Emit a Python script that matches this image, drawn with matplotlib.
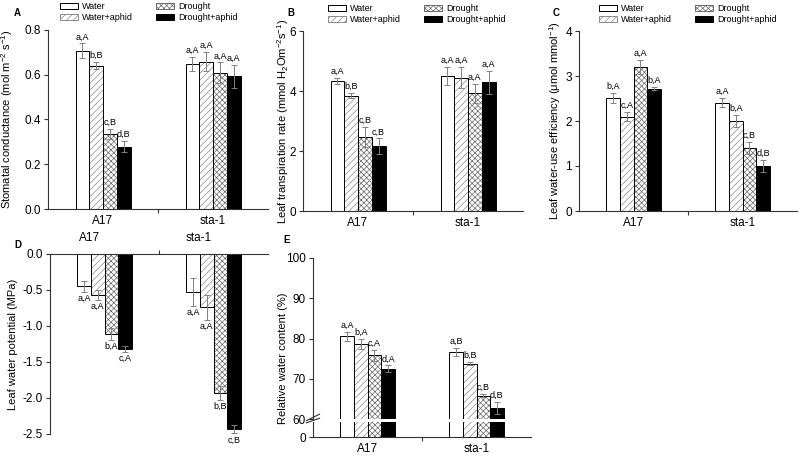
import matplotlib
matplotlib.use('Agg')
import matplotlib.pyplot as plt
from matplotlib.patches import Patch
from matplotlib.transforms import ScaledTranslation

plt.rcParams['font.family'] = ['Liberation Sans', 'DejaVu Sans']
plt.rcParams['mathtext.fontset'] = 'custom'
plt.rcParams['mathtext.rm'] = 'Liberation Sans'
plt.rcParams['mathtext.it'] = 'Liberation Sans:italic'
plt.rcParams['hatch.linewidth'] = 0.5

groups = ['A17', 'sta-1']
treatments = ['Water', 'Water+aphid', 'Drought', 'Drought+aphid']

# A  stomatal conductance
gs_mean = [[0.708, 0.641, 0.335, 0.278], [0.648, 0.659, 0.610, 0.593]]
gs_err = [[0.032, 0.016, 0.022, 0.025], [0.031, 0.043, 0.045, 0.050]]
gs_lab = [['a,A', 'b,B', 'c,B', 'd,B'], ['a,A', 'a,A', 'a,A', 'a,A']]

# B  transpiration
tr_mean = [[4.34, 3.85, 2.47, 2.16], [4.51, 4.45, 3.92, 4.29]]
tr_err = [[0.10, 0.08, 0.33, 0.26], [0.30, 0.36, 0.31, 0.38]]
tr_lab = [['a,A', 'b,B', 'c,B', 'c,B'], ['a,A', 'a,A', 'a,A', 'a,A']]

# C  water-use efficiency
wue_mean = [[2.51, 2.10, 3.20, 2.72], [2.41, 2.00, 1.40, 1.00]]
wue_err = [[0.12, 0.10, 0.15, 0.04], [0.10, 0.14, 0.14, 0.14]]
wue_lab = [['b,A', 'c,A', 'a,A', 'b,A'], ['a,A', 'b,A', 'c,B', 'd,B']]

# D  leaf water potential
lwp_mean = [[-0.45, -0.565, -1.11, -1.315], [-0.53, -0.74, -1.93, -2.43]]
lwp_err = [[0.08, 0.07, 0.08, 0.04], [0.19, 0.17, 0.10, 0.06]]
lwp_lab = [['a,A', 'a,A', 'b,A', 'c,A'], ['a,A', 'a,A', 'b,B', 'c,B']]

# E  relative water content
rwc_mean = [[80.6, 78.6, 75.8, 72.5], [76.7, 73.75, 65.8, 62.75]]
rwc_err = [[1.1, 1.2, 1.4, 0.8], [1.05, 0.4, 0.4, 1.4]]
rwc_lab = [['a,A', 'b,A', 'c,A', 'd,A'], ['a,B', 'b,B', 'c,B', 'd,B']]

W, H = 800, 457
fills = ['white', 'white', 'white', 'black']
hatches = [None, '/////', 'xxxxxx', None]
hcols = ['black', '#8a8a8a', '#6a6a6a', 'black']
ecol = '#808080'
bw = 0.125
centers = [0.5, 1.5]


def px(x0, y0, x1, y1):
    return [x0 / W, 1 - y1 / H, (x1 - x0) / W, (y1 - y0) / H]


def bars(ax, mean, err, labs, down=False, text=True):
    for g, c in enumerate(centers):
        for i in range(4):
            x = c + (i - 1.5) * bw
            m = mean[g][i]
            e = err[g][i]
            ax.bar(x, m, bw, color=fills[i], edgecolor=hcols[i], hatch=hatches[i], linewidth=0)
            ax.bar(x, m, bw, fill=False, edgecolor='black', linewidth=0.7)
            ax.errorbar(x, m, yerr=e, fmt='none', ecolor=ecol, elinewidth=0.7,
                        capsize=2, capthick=0.7)
            if text:
                if down:
                    ax.annotate(labs[g][i], (x, m - e), xytext=(0, -1.5), textcoords='offset points',
                                ha='center', va='top', fontsize=6.5, annotation_clip=False)
                else:
                    ax.annotate(labs[g][i], (x, m + e), xytext=(0, 1.5), textcoords='offset points',
                                ha='center', va='bottom', fontsize=6.5, annotation_clip=False)


def style(ax, top=False):
    ax.set_xlim(0, 2)
    ax.spines['right'].set_visible(False)
    if top:
        ax.spines['bottom'].set_visible(False)
        ax.xaxis.tick_top()
    else:
        ax.spines['top'].set_visible(False)
    for s in ax.spines.values():
        s.set_linewidth(0.8)
        s.set_color('#333333')
    ax.set_xticks(centers)
    ax.set_xticklabels(groups, fontsize=8.5)
    ax.tick_params(axis='x', which='major', length=0, pad=4)
    ax.set_xticks([1], minor=True)
    ax.tick_params(axis='x', which='minor', length=3, width=0.8, color='#333333')
    ax.tick_params(axis='y', labelsize=8.5, length=3, width=0.8, color='#333333', pad=2)


def legend(ax, x, y):
    hs = [Patch(facecolor=fills[i], edgecolor=hcols[i] if hatches[i] else 'black',
                hatch=hatches[i], linewidth=0.7) for i in range(4)]
    ax.legend(hs, treatments, ncol=2, loc='upper left', bbox_to_anchor=(x / W, 1 - y / H),
              bbox_transform=fig.transFigure, frameon=False, fontsize=6.5, handlelength=2.0,
              handleheight=0.75, handletextpad=0.4, columnspacing=2.6, labelspacing=0.25,
              borderpad=0, borderaxespad=0)


fig = plt.figure(figsize=(8, 4.57), dpi=100)

# A
ax = fig.add_axes(px(48, 30, 268, 209))
bars(ax, gs_mean, gs_err, gs_lab)
style(ax)
ax.set_ylim(0, 0.8)
ax.set_yticks([0.0, 0.2, 0.4, 0.6, 0.8])
ax.set_ylabel('Stomatal conductance (mol m$^{-2}$ s$^{-1}$)', fontsize=8)
ax.yaxis.set_label_coords(-0.15, 0.5)
legend(ax, 60, 2)
fig.text(14 / W, 1 - 13 / H, 'A', fontsize=7, fontweight='bold', va='center')

# B
ax = fig.add_axes(px(303, 31, 523, 211))
bars(ax, tr_mean, tr_err, tr_lab)
style(ax)
ax.set_ylim(0, 6)
ax.set_yticks([0, 2, 4, 6])
ax.set_ylabel('Leaf transpiration rate (mmol H$_2$Om$^{-2}$s$^{-1}$)', fontsize=8)
ax.yaxis.set_label_coords(-0.055, 0.5)
legend(ax, 328, 4)
fig.text(287 / W, 1 - 13 / H, 'B', fontsize=7, fontweight='bold', va='center')

# C
ax = fig.add_axes(px(579, 31, 797, 211))
bars(ax, wue_mean, wue_err, wue_lab)
style(ax)
ax.set_ylim(0, 4)
ax.set_yticks([0, 1, 2, 3, 4])
ax.set_ylabel('Leaf water-use efficiency (\u03bcmol mmol$^{-1}$)', fontsize=8)
ax.yaxis.set_label_coords(-0.075, 0.5)
legend(ax, 599, 4)
fig.text(553 / W, 1 - 13 / H, 'C', fontsize=7, fontweight='bold', va='center')

# D
ax = fig.add_axes(px(50, 254, 268, 434))
bars(ax, lwp_mean, lwp_err, lwp_lab, down=True)
style(ax, top=True)
ax.set_ylim(-2.5, 0)
ax.set_yticks([0.0, -0.5, -1.0, -1.5, -2.0, -2.5])
ax.set_yticklabels(['0.0', '-0.5', '-1.0', '-1.5', '-2.0', '-2.5'])
ax.tick_params(axis='x', which='major', pad=7)
off = ScaledTranslation(-15 / 100, 0, fig.dpi_scale_trans)
for t in ax.get_xticklabels():
    t.set_transform(t.get_transform() + off)
ax.set_ylabel('Leaf water potential (MPa)', fontsize=8)
ax.yaxis.set_label_coords(-0.145, 0.5)
fig.text(14 / W, 1 - 245 / H, 'D', fontsize=7, fontweight='bold', va='center')

# E  (broken axis)
ax = fig.add_axes(px(313, 258, 531, 419))
bars(ax, rwc_mean, rwc_err, rwc_lab)
ax.set_xlim(0, 2)
ax.set_ylim(60, 100)
ax.set_yticks([60, 70, 80, 90, 100])
for s in ['top', 'right', 'bottom']:
    ax.spines[s].set_visible(False)
ax.spines['left'].set_linewidth(0.8)
ax.spines['left'].set_color('#333333')
ax.set_xticks([])
ax.tick_params(axis='y', labelsize=8.5, length=3, width=0.8, color='#333333', pad=2)
ax.plot([-0.03, 0.03], [-0.01, 0.03], transform=ax.transAxes, color='#333333', lw=0.8, clip_on=False)

ax2 = fig.add_axes(px(313, 422, 531, 437))
bars(ax2, rwc_mean, rwc_err, rwc_lab, text=False)
style(ax2)
ax2.set_ylim(0, 3.75)
ax2.set_yticks([0])
ax2.plot([-0.03, 0.03], [0.95, 1.25], transform=ax2.transAxes, color='#333333', lw=0.8, clip_on=False)
fig.text(283 / W, 1 - 358 / H, 'Relative water content (%)', fontsize=8, rotation=90,
         ha='center', va='center')
fig.text(283 / W, 1 - 240 / H, 'E', fontsize=7, fontweight='bold', va='center')

fig.savefig('out.png', dpi=100)
